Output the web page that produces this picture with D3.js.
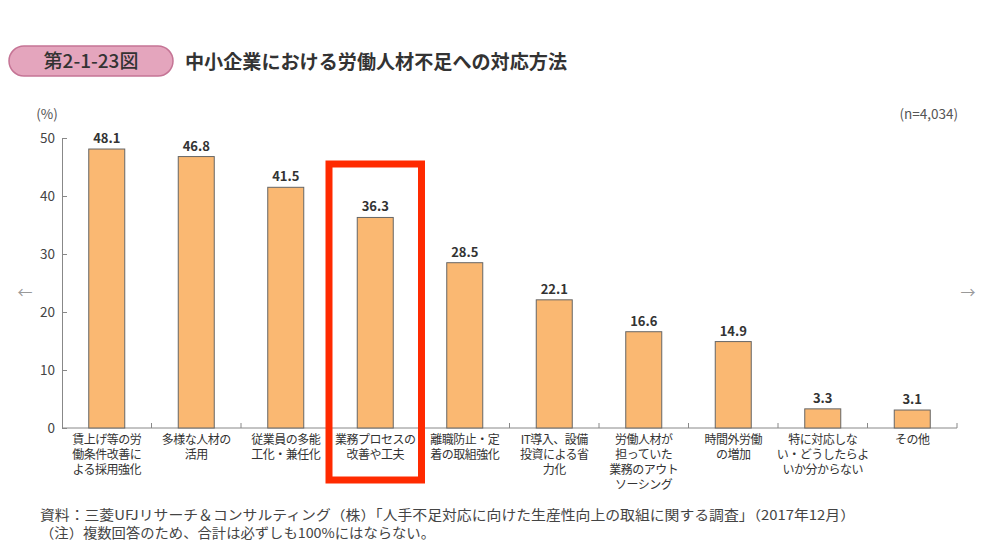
<!DOCTYPE html>
<html><head><meta charset="utf-8">
<script src="https://cdn.jsdelivr.net/npm/d3@7"></script>
<style>body{margin:0;background:#fff}svg{display:block}</style>
</head><body>
<svg id="c" width="991" height="550"></svg>
<script>
const categories = [
  ["賃上げ等の労","働条件改善に","よる採用強化"],
  ["多様な人材の","活用"],
  ["従業員の多能","工化・兼任化"],
  ["業務プロセスの","改善や工夫"],
  ["離職防止・定","着の取組強化"],
  ["IT導入、設備","投資による省","力化"],
  ["労働人材が","担っていた","業務のアウト","ソーシング"],
  ["時間外労働","の増加"],
  ["特に対応しな","い・どうしたらよ","いか分からない"],
  ["その他"]
];
const values = [48.1, 46.8, 41.5, 36.3, 28.5, 22.1, 16.6, 14.9, 3.3, 3.1];
const yTicks = [0, 10, 20, 30, 40, 50];
const highlightIndex = 3;
const figNo = "第2-1-23図";
const title = "中小企業における労働人材不足への対応方法";
const note1 = "資料：三菱UFJリサーチ＆コンサルティング（株）「人手不足対応に向けた生産性向上の取組に関する調査」（2017年12月）";
const note2 = "（注）複数回答のため、合計は必ずしも100%にはならない。";

const svg = d3.select("#c");
const font = "'Noto Sans CJK JP','Noto Sans',sans-serif";
const x0 = 62, x1 = 957, yTop = 138, yBot = 428;
const xb = d3.scaleBand().domain(d3.range(values.length)).range([x0, x1]);
const y = d3.scaleLinear().domain([0, 50]).range([yBot, yTop]);

// title pill
svg.append("rect").attr("x", 9).attr("y", 46).attr("width", 164).attr("height", 30).attr("rx", 15)
  .attr("fill", "#e4a5bd").attr("stroke", "#c57495").attr("stroke-width", 1.5);
svg.append("text").attr("x", 91).attr("y", 68).attr("text-anchor", "middle")
  .attr("font-family", font).attr("font-size", 19).attr("font-weight", 500).attr("fill", "#333").text(figNo);
svg.append("text").attr("x", 185).attr("y", 69)
  .attr("font-family", font).attr("font-size", 19).attr("font-weight", 700).attr("fill", "#333")
  .attr("textLength", 382).attr("lengthAdjust", "spacingAndGlyphs").text(title);

// units
svg.append("text").attr("x", 47).attr("y", 119).attr("text-anchor", "middle")
  .attr("font-family", font).attr("font-size", 13.5).attr("fill", "#555").text("(%)");
svg.append("text").attr("x", 958).attr("y", 119).attr("text-anchor", "end")
  .attr("font-family", font).attr("font-size", 13.5).attr("fill", "#555").text("(n=4,034)");

// y axis (ticks inward)
const ya = svg.append("g").attr("transform", `translate(${x0},0)`)
  .call(d3.axisLeft(y).tickValues(yTicks).tickSize(-5).tickSizeOuter(0).tickPadding(7));
ya.select(".domain").attr("stroke", "#888");
ya.selectAll(".tick line").attr("stroke", "#888");
ya.selectAll(".tick text").attr("font-family", font).attr("font-size", 13.5).attr("fill", "#444").attr("x", -7);

// x axis
const xa = svg.append("g").attr("transform", `translate(0,${yBot})`);
xa.append("line").attr("x1", x0).attr("x2", x1).attr("stroke", "#888");
xa.selectAll("line.t").data(d3.range(1, values.length + 1)).join("line").attr("class", "t")
  .attr("x1", i => xb(i - 1) + xb.bandwidth()).attr("x2", i => xb(i - 1) + xb.bandwidth())
  .attr("y1", 0).attr("y2", -5).attr("stroke", "#888");

// bars
const bw = 36;
svg.selectAll("rect.bar").data(values).join("rect").attr("class", "bar")
  .attr("x", (d, i) => xb(i) + xb.bandwidth() / 2 - bw / 2).attr("width", bw)
  .attr("y", d => y(d)).attr("height", d => y(0) - y(d))
  .attr("fill", "#fab872").attr("stroke", "#666").attr("stroke-width", 1);

svg.selectAll("text.val").data(values).join("text").attr("class", "val")
  .attr("x", (d, i) => xb(i) + xb.bandwidth() / 2).attr("y", d => y(d) - 6)
  .attr("text-anchor", "middle").attr("font-family", font).attr("font-size", 13).attr("font-weight", 700)
  .attr("fill", "#333").text(d => d.toFixed(1));

// category labels (one text per line)
categories.forEach((lines, i) => {
  lines.forEach((ln, j) => {
    svg.append("text").attr("class", "cat")
      .attr("x", xb(i) + xb.bandwidth() / 2).attr("y", 444 + j * 15)
      .attr("text-anchor", "middle").attr("font-family", font).attr("font-size", 12).attr("fill", "#333")
      .attr("letter-spacing", -0.5).text(ln);
  });
});

// highlight box
const hx = xb(highlightIndex);
svg.append("rect").attr("x", hx - 1.5).attr("y", 164).attr("width", xb.bandwidth() + 3).attr("height", 316)
  .attr("fill", "none").attr("stroke", "#ff2a00").attr("stroke-width", 7);

// notes
svg.append("text").attr("x", 40).attr("y", 520).attr("font-family", font).attr("font-size", 13.5).attr("fill", "#444")
  .attr("textLength", 815).attr("lengthAdjust", "spacingAndGlyphs").text(note1);
svg.append("text").attr("x", 40).attr("y", 538).attr("font-family", font).attr("font-size", 13.5).attr("fill", "#444")
  .attr("textLength", 395).attr("lengthAdjust", "spacingAndGlyphs").text(note2);

// nav arrows
svg.append("text").attr("x", 25).attr("y", 298).attr("text-anchor", "middle").attr("font-family", font).attr("font-size", 15).attr("fill", "#999").text("←");
svg.append("text").attr("x", 968).attr("y", 298).attr("text-anchor", "middle").attr("font-family", font).attr("font-size", 15).attr("fill", "#999").text("→");
</script>
</body></html>
